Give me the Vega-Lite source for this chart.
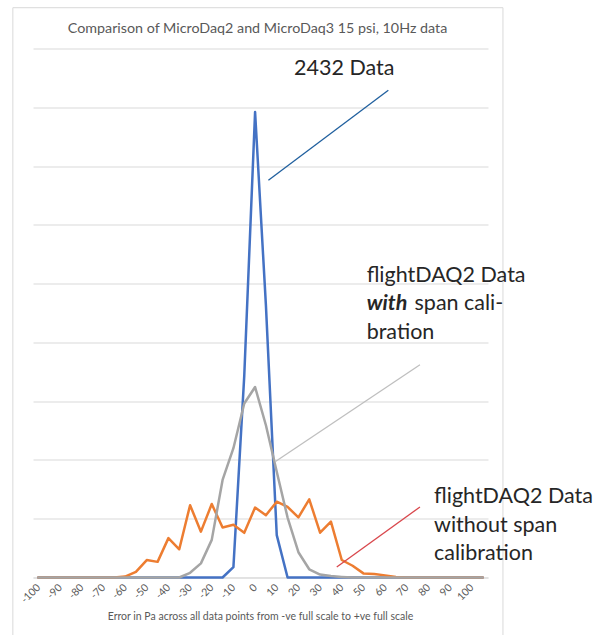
{
  "$schema": "https://vega.github.io/schema/vega-lite/v6.json",
  "autosize": {"type": "none"},
  "padding": {"left": 33, "top": 48.5, "right": 116, "bottom": 57.5},
  "width": 455,
  "height": 529,
  "background": "white",
  "config": {
    "font": "Lato",
    "view": {"stroke": null},
    "axis": {"labelOverlap": false},
    "axisX": {"labelOverlap": false, "labelFlush": false, "labelBound": false}
  },
  "title": {
    "text": "Comparison of MicroDaq2 and MicroDaq3 15 psi, 10Hz data",
    "fontSize": 14.3,
    "fontWeight": "normal",
    "color": "#595959",
    "baseline": "alphabetic",
    "frame": "group",
    "offset": -40.5,
    "anchor": "middle",
    "dx": -3
  },
  "datasets": {
    "series": [
      {"x": -100, "blue": 0, "orange": 0, "gray": 0},
      {"x": -95, "blue": 0, "orange": 0, "gray": 0},
      {"x": -90, "blue": 0, "orange": 0, "gray": 0},
      {"x": -85, "blue": 0, "orange": 0, "gray": 0},
      {"x": -80, "blue": 0, "orange": 0, "gray": 0},
      {"x": -75, "blue": 0, "orange": 0, "gray": 0},
      {"x": -70, "blue": 0, "orange": 0, "gray": 0},
      {"x": -65, "blue": 0, "orange": 0, "gray": 0},
      {"x": -60, "blue": 0, "orange": 8, "gray": 0},
      {"x": -55, "blue": 0, "orange": 48, "gray": 0},
      {"x": -50, "blue": 0, "orange": 148, "gray": 0},
      {"x": -45, "blue": 0, "orange": 133, "gray": 0},
      {"x": -40, "blue": 0, "orange": 335, "gray": 0},
      {"x": -35, "blue": 0, "orange": 240, "gray": 0},
      {"x": -30, "blue": 0, "orange": 615, "gray": 40},
      {"x": -25, "blue": 0, "orange": 390, "gray": 120},
      {"x": -20, "blue": 0, "orange": 625, "gray": 320},
      {"x": -15, "blue": 0, "orange": 425, "gray": 830},
      {"x": -10, "blue": 88, "orange": 448, "gray": 1100},
      {"x": -5, "blue": 1715, "orange": 380, "gray": 1480},
      {"x": 0, "blue": 3960, "orange": 595, "gray": 1620},
      {"x": 5, "blue": 2315, "orange": 530, "gray": 1295},
      {"x": 10, "blue": 360, "orange": 645, "gray": 900},
      {"x": 15, "blue": 0, "orange": 600, "gray": 510},
      {"x": 20, "blue": 0, "orange": 512, "gray": 215},
      {"x": 25, "blue": 0, "orange": 665, "gray": 70},
      {"x": 30, "blue": 0, "orange": 381, "gray": 25},
      {"x": 35, "blue": 0, "orange": 475, "gray": 12},
      {"x": 40, "blue": 0, "orange": 149, "gray": 5},
      {"x": 45, "blue": 0, "orange": 100, "gray": 0},
      {"x": 50, "blue": 0, "orange": 35, "gray": 0},
      {"x": 55, "blue": 0, "orange": 30, "gray": 0},
      {"x": 60, "blue": 0, "orange": 18, "gray": 0},
      {"x": 65, "blue": 0, "orange": 5, "gray": 0},
      {"x": 70, "blue": 0, "orange": 0, "gray": 0},
      {"x": 75, "blue": 0, "orange": 0, "gray": 0},
      {"x": 80, "blue": 0, "orange": 0, "gray": 0},
      {"x": 85, "blue": 0, "orange": 0, "gray": 0},
      {"x": 90, "blue": 0, "orange": 0, "gray": 0},
      {"x": 95, "blue": 0, "orange": 0, "gray": 0},
      {"x": 100, "blue": 0, "orange": 0, "gray": 0},
      {"x": 105, "blue": 0, "orange": 0, "gray": 0}
    ],
    "border": [{"x": -111.8, "x2": 114.4, "y": -700, "y2": 4847}],
    "blueRule": [{"x": 6.15, "y": 3380, "x2": 61.5, "y2": 4145}],
    "grayRule": [{"x": 9.23, "y": 985, "x2": 76.1, "y2": 1810}],
    "redRule": [{"x": 37.7, "y": 90, "x2": 76.1, "y2": 600}],
    "labels": [
      {"text": "2432 Data", "x": 18.0, "y": 4275},
      {"text": "flightDAQ2 Data", "x": 51.5, "y": 2515},
      {"text": "span cali-", "x": 73.6, "y": 2275},
      {"text": "bration", "x": 51.5, "y": 2025},
      {"text": "flightDAQ2 Data", "x": 82.6, "y": 630},
      {"text": "without span", "x": 82.6, "y": 390},
      {"text": "calibration", "x": 82.6, "y": 145}
    ],
    "boldLabels": [{"text": "with", "x": 51.5, "y": 2275}]
  },
  "encoding": {
    "x": {
      "field": "x", "type": "quantitative",
      "scale": {"domain": [-102.5, 107.5], "nice": false, "zero": false},
      "axis": {
        "title": "Error in Pa across all data points from -ve full scale to +ve full scale",
        "values": [-100, -90, -80, -70, -60, -50, -40, -30, -20, -10, 0, 10, 20, 30, 40, 50, 60, 70, 80, 90, 100],
        "labelExpr": "'' + datum.value",
        "labelAngle": -45,
        "labelAlign": "right",
        "labelBaseline": "middle",
        "labelFontSize": 10.5,
        "labelColor": "#595959",
        "labelPadding": 8,
        "labelOverlap": false,
        "labelFlush": false,
        "ticks": false,
        "grid": false,
        "domainColor": "#d9d9d9",
        "domainWidth": 1,
        "zindex": 0,
        "titleFontSize": 10.5,
        "titleFontWeight": "normal",
        "titleColor": "#595959",
        "titleX": 227,
        "titleY": 42,
        "titleAlign": "center",
        "titleBaseline": "alphabetic"
      }
    },
    "y": {
      "field": "y", "type": "quantitative",
      "scale": {"domain": [0, 4500], "nice": false, "zero": false},
      "axis": {
        "title": null, "labels": false, "ticks": false, "domain": false,
        "grid": true, "gridColor": "#d9d9d9", "gridWidth": 1,
        "values": [0, 500, 1000, 1500, 2000, 2500, 3000, 3500, 4000, 4500]
      }
    }
  },
  "layer": [
    {
      "data": {"name": "series"},
      "transform": [{"fold": ["blue"], "as": ["s", "y"]}],
      "mark": {"type": "line", "color": "#4472c4", "strokeWidth": 2.5, "strokeJoin": "round", "strokeCap": "round"}
    },
    {
      "data": {"name": "series"},
      "transform": [{"fold": ["orange"], "as": ["s", "y"]}],
      "mark": {"type": "line", "color": "#ed7d31", "strokeWidth": 2.5, "strokeJoin": "round", "strokeCap": "round"}
    },
    {
      "data": {"name": "series"},
      "transform": [{"fold": ["gray"], "as": ["s", "y"]}],
      "mark": {"type": "line", "color": "#a5a5a5", "strokeWidth": 2.5, "strokeJoin": "round", "strokeCap": "round"}
    },
    {
      "data": {"name": "border"},
      "mark": {"type": "rect", "fill": null, "stroke": "#d9d9d9", "strokeWidth": 1},
      "encoding": {"x2": {"field": "x2"}, "y2": {"field": "y2"}}
    },
    {
      "data": {"name": "blueRule"},
      "mark": {"type": "rule", "color": "#1f5f9e", "strokeWidth": 1.3},
      "encoding": {"x2": {"field": "x2"}, "y2": {"field": "y2"}}
    },
    {
      "data": {"name": "grayRule"},
      "mark": {"type": "rule", "color": "#bfbfbf", "strokeWidth": 1.3},
      "encoding": {"x2": {"field": "x2"}, "y2": {"field": "y2"}}
    },
    {
      "data": {"name": "redRule"},
      "mark": {"type": "rule", "color": "#d9474c", "strokeWidth": 1.3},
      "encoding": {"x2": {"field": "x2"}, "y2": {"field": "y2"}}
    },
    {
      "data": {"name": "labels"},
      "mark": {"type": "text", "align": "left", "baseline": "alphabetic", "fontSize": 21.5, "color": "#262626"},
      "encoding": {"text": {"field": "text"}}
    },
    {
      "data": {"name": "boldLabels"},
      "mark": {"type": "text", "align": "left", "baseline": "alphabetic", "fontSize": 21.5, "fontWeight": "bold", "fontStyle": "italic", "color": "#262626"},
      "encoding": {"text": {"field": "text"}}
    }
  ]
}
